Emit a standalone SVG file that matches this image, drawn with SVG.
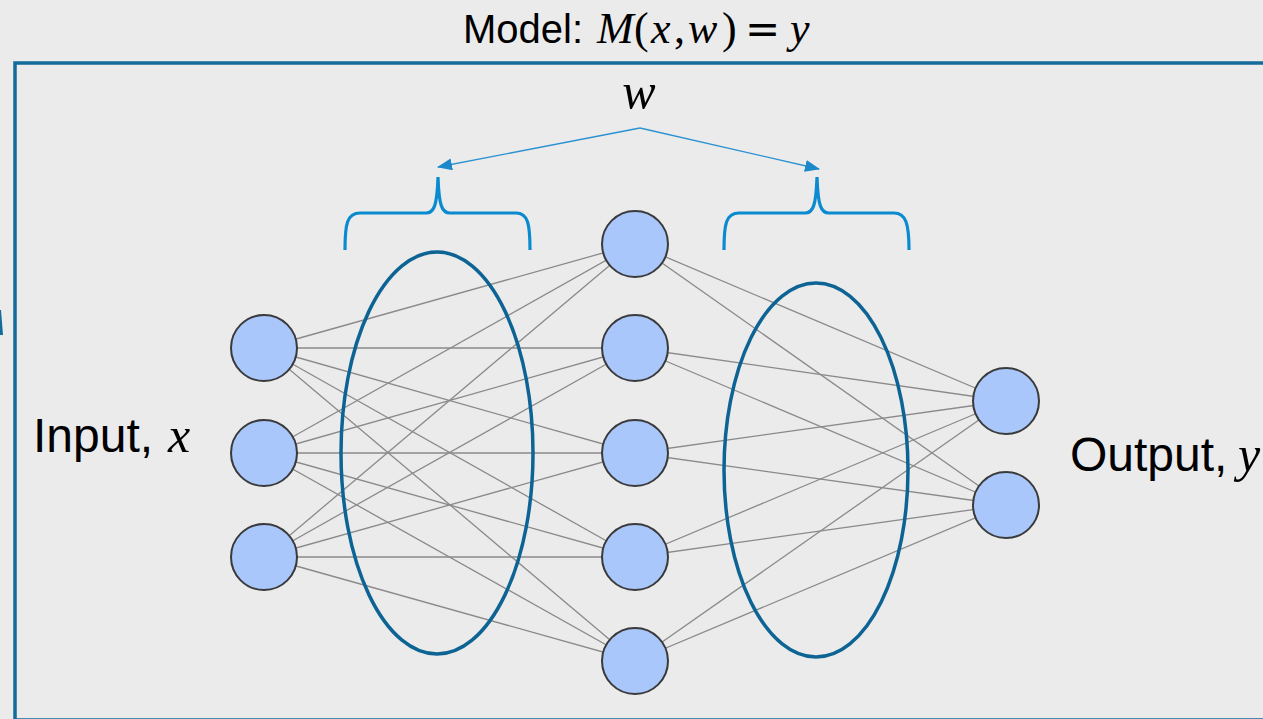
<svg xmlns="http://www.w3.org/2000/svg" width="1263" height="719" viewBox="0 0 1263 719">
  <defs>
    <style>
      .sans { font-family: "Liberation Sans", Arial, sans-serif; fill: #000; }
      .math { font-family: "Liberation Serif", "Times New Roman", serif; font-style: italic; fill: #000; }
      .up { font-family: "Liberation Serif", "Times New Roman", serif; font-style: normal; }
      .eq { font-family: "DejaVu Sans", sans-serif; font-style: normal; }
      .conn line { stroke: #8a8a8a; stroke-width: 1.3; }
      .node { fill: #a9c7fb; stroke: #3a3a3a; stroke-width: 2; }
      .group { fill: none; stroke: #0d6494; stroke-width: 3.5; }
      .brace { fill: none; stroke: #0a8bd0; stroke-width: 3.2; }
      .warrow { fill: none; stroke: #2a92d0; stroke-width: 1.3; }
    </style>
    <marker id="ah" markerWidth="15" markerHeight="12" refX="14" refY="6" orient="auto" markerUnits="userSpaceOnUse">
      <path d="M0,0 L15,6 L0,12 Z" fill="#1a88c9"/>
    </marker>
  </defs>

  <rect x="0" y="0" width="1263" height="719" fill="#ebebeb"/>

  <!-- outer model box -->
  <rect id="model-box" x="15" y="63" width="1300" height="657" fill="none" stroke="#136b9a" stroke-width="3.5"/>
  <polygon points="0,310 1,310 3,335 0,335" fill="#136b9a"/>

  <!-- title -->
  <g id="title">
    <text class="sans" x="463" y="43" font-size="40">Model:</text>
    <text class="math" y="43" font-size="44">
      <tspan x="597">M</tspan><tspan class="up" x="634">(</tspan><tspan x="651">x</tspan><tspan class="up" x="674">,</tspan><tspan x="688">w</tspan><tspan class="up" x="722">)</tspan><tspan class="eq" x="745" font-size="42">=</tspan><tspan x="790">y</tspan>
    </text>
  </g>

  <!-- weights label -->
  <g id="w-label">
    <text class="math" x="639" y="108" font-size="50" text-anchor="middle">w</text>
  </g>

  <!-- connectors -->
  <g id="connectors" class="conn">
    <line x1="264" y1="348" x2="635" y2="244"/>
    <line x1="264" y1="348" x2="635" y2="348"/>
    <line x1="264" y1="348" x2="635" y2="453"/>
    <line x1="264" y1="348" x2="635" y2="557"/>
    <line x1="264" y1="348" x2="635" y2="661"/>
    <line x1="264" y1="453" x2="635" y2="244"/>
    <line x1="264" y1="453" x2="635" y2="348"/>
    <line x1="264" y1="453" x2="635" y2="453"/>
    <line x1="264" y1="453" x2="635" y2="557"/>
    <line x1="264" y1="453" x2="635" y2="661"/>
    <line x1="264" y1="557" x2="635" y2="244"/>
    <line x1="264" y1="557" x2="635" y2="348"/>
    <line x1="264" y1="557" x2="635" y2="453"/>
    <line x1="264" y1="557" x2="635" y2="557"/>
    <line x1="264" y1="557" x2="635" y2="661"/>
    <line x1="635" y1="244" x2="1006" y2="401"/>
    <line x1="635" y1="244" x2="1006" y2="505"/>
    <line x1="635" y1="348" x2="1006" y2="401"/>
    <line x1="635" y1="348" x2="1006" y2="505"/>
    <line x1="635" y1="453" x2="1006" y2="401"/>
    <line x1="635" y1="453" x2="1006" y2="505"/>
    <line x1="635" y1="557" x2="1006" y2="401"/>
    <line x1="635" y1="557" x2="1006" y2="505"/>
    <line x1="635" y1="661" x2="1006" y2="401"/>
    <line x1="635" y1="661" x2="1006" y2="505"/>
  </g>

  <!-- weight arrows -->
  <g id="w-arrows">
    <line class="warrow" x1="640" y1="128" x2="438" y2="167" marker-end="url(#ah)"/>
    <line class="warrow" x1="640" y1="128" x2="819" y2="169" marker-end="url(#ah)"/>
  </g>

  <!-- braces -->
  <g id="brace-left">
    <path class="brace" d="M345,250 C345,224 347,213 360,213 L426,213 C434,213 437,206 438,177 C439,206 442,213 450,213 L516,213 C528,213 530,224 530,250"/>
  </g>
  <g id="brace-right">
    <path class="brace" d="M724,250 C724,224 726,213 739,213 L805,213 C813,213 816,206 817,177 C818,206 821,213 829,213 L894,213 C906,213 909,224 909,250"/>
  </g>

  <!-- weight group ellipses -->
  <g id="weights-1">
    <ellipse class="group" cx="437" cy="453" rx="96" ry="201"/>
  </g>
  <g id="weights-2">
    <ellipse class="group" cx="816" cy="470" rx="92" ry="187"/>
  </g>

  <!-- input layer -->
  <g id="input-1"><circle class="node" cx="264" cy="348" r="33"/></g>
  <g id="input-2"><circle class="node" cx="264" cy="453" r="33"/></g>
  <g id="input-3"><circle class="node" cx="264" cy="557" r="33"/></g>

  <!-- hidden layer -->
  <g id="hidden-1"><circle class="node" cx="635" cy="244" r="33"/></g>
  <g id="hidden-2"><circle class="node" cx="635" cy="348" r="33"/></g>
  <g id="hidden-3"><circle class="node" cx="635" cy="453" r="33"/></g>
  <g id="hidden-4"><circle class="node" cx="635" cy="557" r="33"/></g>
  <g id="hidden-5"><circle class="node" cx="635" cy="661" r="33"/></g>

  <!-- output layer -->
  <g id="output-1"><circle class="node" cx="1006" cy="401" r="33"/></g>
  <g id="output-2"><circle class="node" cx="1006" cy="505" r="33"/></g>

  <!-- labels -->
  <g id="input-label">
    <text class="sans" x="33" y="452" font-size="48">Input,</text>
    <text class="math" x="168" y="452" font-size="50">x</text>
  </g>
  <g id="output-label">
    <text class="sans" x="1070" y="471" font-size="48">Output,</text>
    <text class="math" x="1238" y="471" font-size="50">y</text>
  </g>
</svg>
